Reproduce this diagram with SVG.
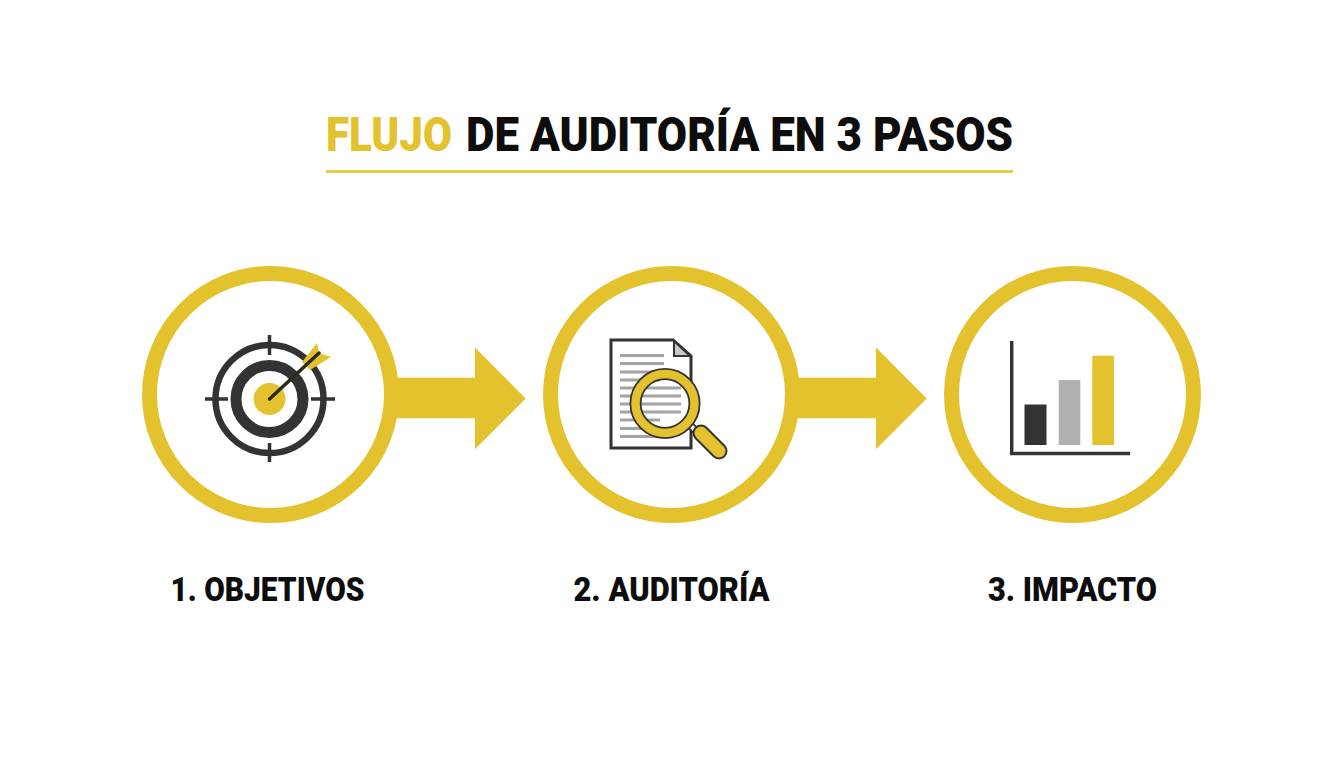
<svg xmlns="http://www.w3.org/2000/svg" width="1344" height="768" viewBox="0 0 1344 768">
<style>
text{font-family:Roboto,"Liberation Sans",sans-serif;font-weight:900}
.t{font-size:49px;fill:#0d0d0d}
.l{font-size:33px;fill:#0d0d0d;text-anchor:middle}
.ring{fill:#fff;stroke:#e3c22e;stroke-width:15}
.y{fill:#e3c22e}
.dk{fill:none;stroke:#333}
.ln{stroke:#a3a3a3;stroke-width:3}
</style>
<rect width="1344" height="768" fill="#fff"/>
<g id="title">
<text class="t" x="326" y="150.500" textLength="126" lengthAdjust="spacingAndGlyphs" style="fill:#e3c22e">FLUJO</text>
<text class="t" x="466" y="150.500" textLength="547" lengthAdjust="spacingAndGlyphs">DE AUDITORÍA EN 3 PASOS</text>
<rect x="326" y="170" width="687" height="3" fill="#e8cc4a"/>
</g>
<g id="connectors">
<path class="y" d="M395 377.700H475V347.500L525.700 398.500L475 449.300V418.300H395Z"/>
<path class="y" d="M796 377.700H876V347.500L926.700 398.500L876 449.300V418.300H796Z"/>
</g>
<g id="node1">
<circle class="ring" cx="270.500" cy="394.500" r="121"/>
<g class="dk">
<circle cx="269.500" cy="399" r="54" stroke-width="6.500"/>
<circle cx="269.500" cy="399" r="33.500" stroke-width="11"/>
<path stroke-width="3.500" d="M205 399H228M311 399H335M269.500 335V355M269.500 443V462"/>
</g>
<circle class="y" cx="269.500" cy="399" r="16"/>
<path class="y" d="M302 362L317 343L319 353L331 357L310 370Z"/>
<path d="M269.500 399L319 353" stroke="#2a2a1e" stroke-width="3.500" stroke-linecap="round" fill="none"/>
</g>
<g id="node2">
<circle class="ring" cx="671.500" cy="394.500" r="121"/>
<path d="M611 340H673L691 356V448H611Z" fill="#fff" stroke="#333" stroke-width="3"/>
<path d="M674 341L690 356H674Z" fill="#c8c8c8" stroke="#333" stroke-width="2"/>
<path class="ln" d="M620 355.500H664M620 363.500H664M620 372H660M620 380H660M620 388H681M620 396H681M620 404H681M620 412H681M620 420H660M620 428.500H660M620 436.500H660"/>
<path d="M690 425L698 433" stroke="#333" stroke-width="8" fill="none"/>
<path d="M690 425L698 433" stroke="#fff" stroke-width="4.500" fill="none"/>
<path d="M701 433L719 451" stroke="#333" stroke-width="17" stroke-linecap="round" fill="none"/>
<path d="M701 433L719 451" stroke="#e3c22e" stroke-width="13" stroke-linecap="round" fill="none"/>
<circle cx="665" cy="403.500" r="29.500" fill="none" stroke="#333" stroke-width="12"/>
<circle cx="665" cy="403.500" r="29.500" fill="none" stroke="#e3c22e" stroke-width="8.500"/>
</g>
<g id="node3">
<circle class="ring" cx="1072.500" cy="394.500" r="121"/>
<path d="M1011.700 341V453.500H1130" fill="none" stroke="#333" stroke-width="3.500"/>
<rect x="1024.500" y="404.500" width="22" height="40.500" fill="#333"/>
<rect x="1058.700" y="380" width="21.600" height="65" fill="#b0b0b0"/>
<rect x="1092.300" y="355.700" width="21.700" height="89.300" fill="#e3c22e"/>
</g>
<g id="labels">
<text class="l" x="267.500" y="600.500" textLength="194" lengthAdjust="spacingAndGlyphs">1. OBJETIVOS</text>
<text class="l" x="671.500" y="600.500" textLength="196" lengthAdjust="spacingAndGlyphs">2. AUDITORÍA</text>
<text class="l" x="1072.500" y="600.500" textLength="169" lengthAdjust="spacingAndGlyphs">3. IMPACTO</text>
</g>
</svg>
